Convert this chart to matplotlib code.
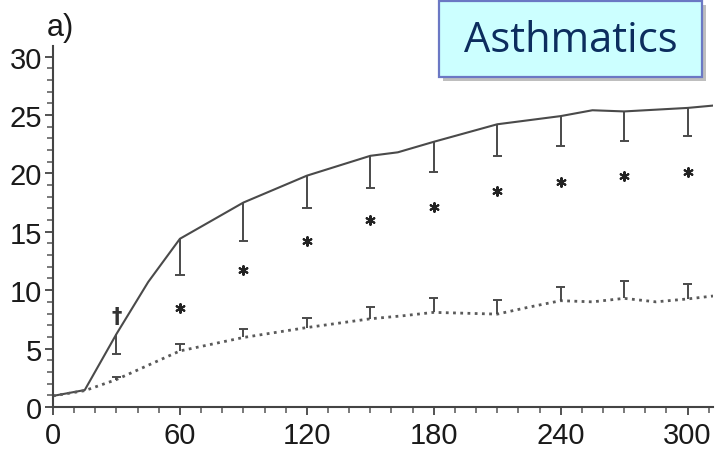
import numpy as np
import matplotlib.pyplot as plt
from matplotlib.patches import Rectangle
from matplotlib.ticker import MultipleLocator
from matplotlib import font_manager

# curve vertices (minutes, response)
solid_x = [0, 15, 30, 45, 60, 90, 120, 150, 163, 180, 210, 240, 255, 270, 300, 312]
solid_y = [0.95, 1.45, 6.25, 10.7, 14.4, 17.5, 19.8, 21.5, 21.8, 22.7, 24.2, 24.9, 25.4, 25.3, 25.6, 25.8]
dotted_x = [0, 15, 30, 60, 90, 120, 150, 165, 180, 210, 225, 240, 255, 270, 285, 300, 312]
dotted_y = [0.95, 1.4, 2.35, 4.8, 5.95, 6.8, 7.55, 7.8, 8.1, 7.95, 8.55, 9.1, 9.0, 9.3, 9.0, 9.25, 9.5]

# error bars at sampling times
times = [30, 60, 90, 120, 150, 180, 210, 240, 270, 300]
solid_mean = [6.25, 14.4, 17.5, 19.8, 21.5, 22.7, 24.2, 24.9, 25.3, 25.6]
solid_low = [4.5, 11.3, 14.25, 17.05, 18.75, 20.1, 21.5, 22.3, 22.8, 23.2]
dotted_mean = [2.35, 4.8, 5.95, 6.8, 7.55, 8.1, 7.95, 9.1, 9.3, 9.25]
dotted_high = [2.55, 5.35, 6.7, 7.6, 8.55, 9.3, 9.2, 10.25, 10.75, 10.5]

# significance markers
star_x = [60, 90, 120, 150, 180, 210, 240, 270, 300]
star_y = [8.5, 11.7, 14.2, 16.0, 17.1, 18.5, 19.3, 19.75, 20.15]
dagger_x, dagger_y = 30, 7.8

names = {f.name for f in font_manager.fontManager.ttflist}
num_font = 'Liberation Sans Narrow' if 'Liberation Sans Narrow' in names else 'Liberation Sans'
plt.rcParams['font.family'] = [num_font, 'DejaVu Sans']

fig = plt.figure(figsize=(7.15, 4.52), dpi=100)
ax = fig.add_axes([53/715, 44/452, 660/715, 361/452])

ink = '#4a4a4a'
ax.plot(solid_x, solid_y, color=ink, lw=1.5)
ax.plot(dotted_x, dotted_y, color='#5a5a5a', lw=2.0, linestyle=(0, (1, 1.6)))

cap = 2.2
ax.vlines(times, solid_low, solid_mean, color=ink, lw=1.4)
ax.hlines(solid_low, np.array(times) - cap, np.array(times) + cap, color=ink, lw=1.4)
ax.vlines(times, dotted_mean, dotted_high, color=ink, lw=1.4)
ax.hlines(dotted_high, np.array(times) - cap, np.array(times) + cap, color=ink, lw=1.4)

ax.scatter(star_x, star_y, marker=(6, 2, 0), s=40, color='#222222', lw=1.5)
ax.text(dagger_x, dagger_y, '\u2020', ha='center', va='center', fontsize=15,
        fontweight='bold', color='#333333', family='DejaVu Sans')

ax.set_xlim(0, 312)
ax.set_ylim(0, 30.9)
ax.xaxis.set_major_locator(MultipleLocator(60))
ax.xaxis.set_minor_locator(MultipleLocator(10))
ax.yaxis.set_major_locator(MultipleLocator(5))
ax.yaxis.set_minor_locator(MultipleLocator(1))
for s in ['top', 'right']:
    ax.spines[s].set_visible(False)
for s in ['left', 'bottom']:
    ax.spines[s].set_color('#444444')
    ax.spines[s].set_linewidth(1.5)
ax.tick_params(which='major', direction='out', length=6, width=1.3, color='#444444',
               labelsize=21, labelcolor='#1a1a1a', pad=2)
ax.tick_params(which='minor', direction='out', length=4, width=1.1, color='#555555')
ax.tick_params(axis='x', which='major', pad=4)

fig.text(47/715, 1 - 36/452, 'a)', fontsize=22, color='#1a1a1a')

# title box with drop shadow
bx, by, bw, bh = 439/715, 1 - 78/452, 263/715, 76/452
shadow = Rectangle((bx + 4/715, by - 4/452), bw, bh, transform=fig.transFigure,
                   facecolor='#8a8a8a', edgecolor='none', alpha=0.55, zorder=5)
box = Rectangle((bx, by), bw, bh, transform=fig.transFigure,
                facecolor='#ccffff', edgecolor='#6b78c4', lw=1.6, zorder=6)
fig.patches.extend([shadow, box])
fig.text(bx + bw/2, by + bh/2 - 1/452, 'Asthmatics', ha='center', va='center',
         fontsize=30, color='#0c2d5e', family='Open Sans', zorder=7)

fig.savefig('out.png', dpi=100)
